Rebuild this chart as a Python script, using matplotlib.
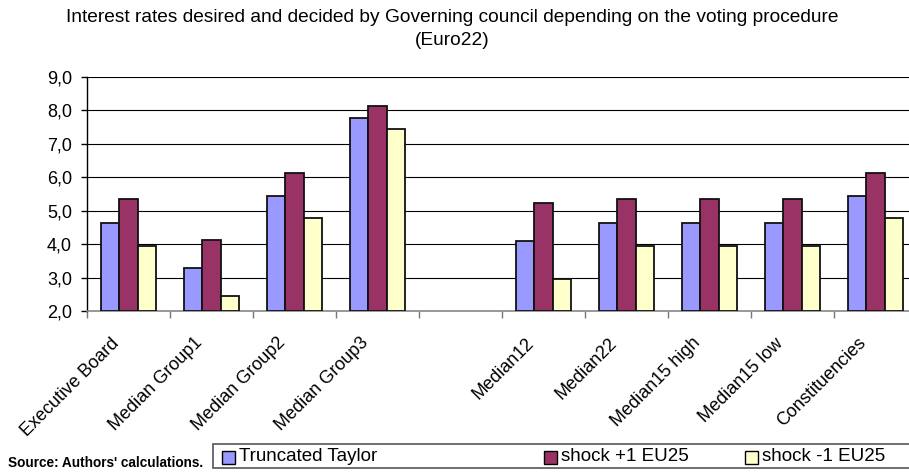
import matplotlib.pyplot as plt
from matplotlib.patches import Rectangle
from matplotlib.ticker import FuncFormatter, MultipleLocator
from matplotlib.transforms import ScaledTranslation
import numpy as np

plt.rcParams['font.family'] = ['Liberation Sans', 'DejaVu Sans']

# Interest rates per voting procedure (Euro22)
categories = ["Executive Board", "Median Group1", "Median Group2", "Median Group3",
              "Median12", "Median22", "Median15 high", "Median15 low", "Constituencies"]
truncated_taylor = [4.64, 3.29, 5.44, 7.76, 4.08, 4.64, 4.64, 4.64, 5.44]
shock_plus = [5.35, 4.13, 6.13, 8.14, 5.24, 5.35, 5.35, 5.35, 6.13]
shock_minus = [3.95, 2.46, 4.79, 7.44, 2.97, 3.95, 3.95, 3.95, 4.79]
series_names = ["Truncated Taylor", "shock +1 EU25", "shock -1 EU25"]
colors = ["#9999FF", "#993366", "#FFFFCC"]

fig = plt.figure(figsize=(9.09, 4.72), dpi=100)
ax = fig.add_axes([87/909, 161/472, 830/909, 234/472])

# one empty slot between the group medians and the other procedures
x = np.arange(len(categories)) + 0.5
x[4:] += 1
w = 0.22
for i, (vals, name, col) in enumerate(zip([truncated_taylor, shock_plus, shock_minus],
                                         series_names, colors)):
    ax.bar(x + (i - 1) * w, np.array(vals) - 2.0, width=w, bottom=2.0,
           color=col, edgecolor='#111111', linewidth=1.3, label=name, zorder=3)

ax.set_ylim(2, 9)
ax.set_xlim(0, 10)
ax.yaxis.set_major_locator(MultipleLocator(1))
ax.yaxis.set_major_formatter(FuncFormatter(lambda v, p: f"{v:.1f}".replace('.', ',')))
ax.grid(axis='y', color='black', linewidth=0.8, zorder=0)

ax.set_xticks(np.arange(11))
ax.set_xticklabels([])
ax.set_xticks(x, minor=True)
ax.set_xticklabels(categories, minor=True, rotation=45, ha='right', va='top',
                   rotation_mode='anchor', fontsize=13)
ax.tick_params(axis='x', which='minor', length=0, pad=12)
ax.tick_params(axis='x', which='major', length=5, color='#777777', width=1)
ax.tick_params(axis='y', length=4.3, width=1, labelsize=13, pad=6.5)

# nudge the slanted category names a little left and down
shift = ScaledTranslation(-13/72, -5/72, fig.dpi_scale_trans)
for lab in ax.get_xticklabels(minor=True):
    lab.set_transform(lab.get_transform() + shift)

for s in ['top', 'right']:
    ax.spines[s].set_visible(False)
ax.spines['left'].set_linewidth(1.0)
ax.spines['bottom'].set_color('#888888')
ax.spines['bottom'].set_linewidth(1.2)

fig.text(452/909, 1 - 29/472,
         "Interest rates desired and decided by Governing council depending on the voting procedure\n(Euro22)",
         ha='center', va='center', fontsize=13.8, linespacing=1.5)

fig.text(8/909, 1 - 463/472, "Source: Authors' calculations.", fontweight='bold',
         fontsize=9.8, ha='left', va='center')

# legend strip along the bottom edge
fig.patches.append(Rectangle((213/909, 1 - 468/472), 0.8, 24/472, transform=fig.transFigure,
                             facecolor='white', edgecolor='#555555', linewidth=1.2))
for name, col, mx in zip(series_names, colors, [222, 544, 745]):
    fig.patches.append(Rectangle((mx/909, 1 - 464/472), 13/909, 13/472,
                                 transform=fig.transFigure, facecolor=col,
                                 edgecolor='black', linewidth=1))
    fig.text((mx + 17)/909, 1 - 456.5/472, name, fontsize=13.5, ha='left', va='center')

fig.savefig('out.png', dpi=100)
